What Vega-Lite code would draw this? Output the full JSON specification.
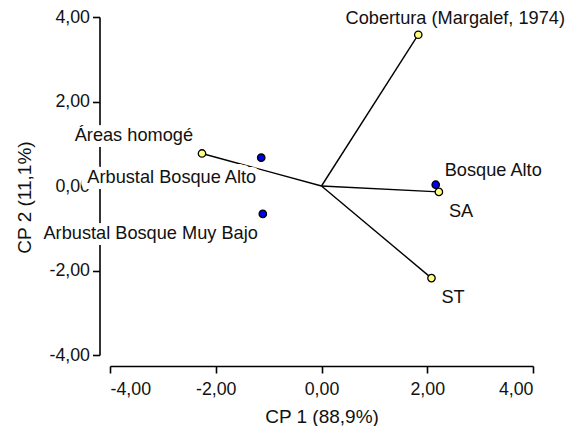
{
  "$schema": "https://vega.github.io/schema/vega-lite/v6.json",
  "width": 423,
  "height": 338,
  "autosize": {"type": "none"},
  "padding": {"left": 110, "top": 17, "right": 32, "bottom": 71},
  "background": "white",
  "config": {
    "view": {"stroke": null},
    "font": "Liberation Sans",
    "axis": {
      "grid": false,
      "domainColor": "#000000",
      "domainWidth": 1.6,
      "tickColor": "#000000",
      "tickWidth": 1.6,
      "tickSize": 7,
      "labelFont": "Liberation Sans",
      "labelFontSize": 17.8,
      "labelColor": "#111111",
      "titleFont": "Liberation Sans",
      "titleFontSize": 19,
      "titleFontWeight": "normal",
      "titleColor": "#111111"
    }
  },
  "data": {
    "values": [
      {"nombre": "Áreas homogé", "tipo": "variable", "cp1": -2.26, "cp2": 0.77},
      {"nombre": "Cobertura (Margalef, 1974)", "tipo": "variable", "cp1": 1.83, "cp2": 3.58},
      {"nombre": "SA", "tipo": "variable", "cp1": 2.22, "cp2": -0.14},
      {"nombre": "ST", "tipo": "variable", "cp1": 2.08, "cp2": -2.18},
      {"nombre": "Arbustal Bosque Alto", "tipo": "sitio", "cp1": -1.14, "cp2": 0.67},
      {"nombre": "Arbustal Bosque Muy Bajo", "tipo": "sitio", "cp1": -1.11, "cp2": -0.66},
      {"nombre": "Bosque Alto", "tipo": "sitio", "cp1": 2.16, "cp2": 0.03}
    ]
  },
  "encoding": {
    "x": {
      "field": "cp1",
      "type": "quantitative",
      "scale": {"domain": [-4, 4], "nice": false, "zero": false},
      "axis": {
        "title": "CP 1 (88,9%)",
        "values": [-4, -2, 0, 2, 4],
        "labelExpr": "replace(replace(format(datum.value, '.2f'), '.', ','), '−', '-')",
        "offset": 11,
        "labelPadding": 7,
        "titlePadding": 10
      }
    },
    "y": {
      "field": "cp2",
      "type": "quantitative",
      "scale": {"domain": [-4, 4], "nice": false, "zero": false},
      "axis": {
        "title": "CP 2 (11,1%)",
        "values": [-4, -2, 0, 2, 4],
        "labelExpr": "replace(replace(format(datum.value, '.2f'), '.', ','), '−', '-')",
        "offset": 10.5,
        "labelPadding": 3,
        "titlePadding": 14,
        "titleAnchor": "middle",
        "titleAlign": "center",
        "titleY": 180
      }
    }
  },
  "layer": [
    {
      "transform": [{"filter": "datum.tipo === 'variable'"}],
      "mark": {"type": "rule", "color": "#000000", "strokeWidth": 1.4},
      "encoding": {"x2": {"datum": 0}, "y2": {"datum": 0}}
    },
    {
      "transform": [{"filter": {"field": "nombre", "oneOf": ["Arbustal Bosque Alto", "Arbustal Bosque Muy Bajo"]}}],
      "mark": {"type": "text", "align": "right", "baseline": "middle", "dx": -5, "dy": 20, "fontSize": 18.2, "stroke": "white", "strokeWidth": 12, "strokeJoin": "round", "fill": "white"},
      "encoding": {"text": {"field": "nombre"}}
    },
    {
      "transform": [{"filter": {"field": "nombre", "oneOf": ["Áreas homogé"]}}],
      "mark": {"type": "text", "align": "right", "baseline": "middle", "dx": -9, "dy": -17, "fontSize": 18.2, "stroke": "white", "strokeWidth": 12, "strokeJoin": "round", "fill": "white"},
      "encoding": {"text": {"field": "nombre"}}
    },
    {
      "transform": [{"filter": {"field": "nombre", "oneOf": ["Arbustal Bosque Alto", "Arbustal Bosque Muy Bajo"]}}],
      "mark": {"type": "text", "align": "right", "baseline": "middle", "dx": -5, "dy": 20, "fontSize": 18.2, "color": "#111111"},
      "encoding": {"text": {"field": "nombre"}}
    },
    {
      "transform": [{"filter": {"field": "nombre", "oneOf": ["Áreas homogé"]}}],
      "mark": {"type": "text", "align": "right", "baseline": "middle", "dx": -9, "dy": -17, "fontSize": 18.2, "color": "#111111"},
      "encoding": {"text": {"field": "nombre"}}
    },
    {
      "transform": [{"filter": {"field": "nombre", "oneOf": ["Bosque Alto"]}}],
      "mark": {"type": "text", "align": "left", "baseline": "middle", "dx": 9, "dy": -14, "fontSize": 18.2, "color": "#111111"},
      "encoding": {"text": {"field": "nombre"}}
    },
    {
      "transform": [{"filter": {"field": "nombre", "oneOf": ["SA", "ST"]}}],
      "mark": {"type": "text", "align": "left", "baseline": "middle", "dx": 10, "dy": 20, "fontSize": 18.2, "color": "#111111"},
      "encoding": {"text": {"field": "nombre"}}
    },
    {
      "transform": [{"filter": {"field": "nombre", "oneOf": ["Cobertura (Margalef, 1974)"]}}],
      "mark": {"type": "text", "align": "center", "baseline": "middle", "dx": 37, "dy": -16, "fontSize": 18.2, "color": "#111111"},
      "encoding": {"text": {"field": "nombre"}}
    },
    {
      "mark": {"type": "point", "shape": "circle", "filled": true, "size": 55, "stroke": "#000000", "strokeWidth": 1.3, "opacity": 1},
      "encoding": {
        "fill": {
          "field": "tipo",
          "type": "nominal",
          "scale": {"domain": ["variable", "sitio"], "range": ["#FFFF80", "#0000F0"]},
          "legend": null
        }
      }
    }
  ]
}
